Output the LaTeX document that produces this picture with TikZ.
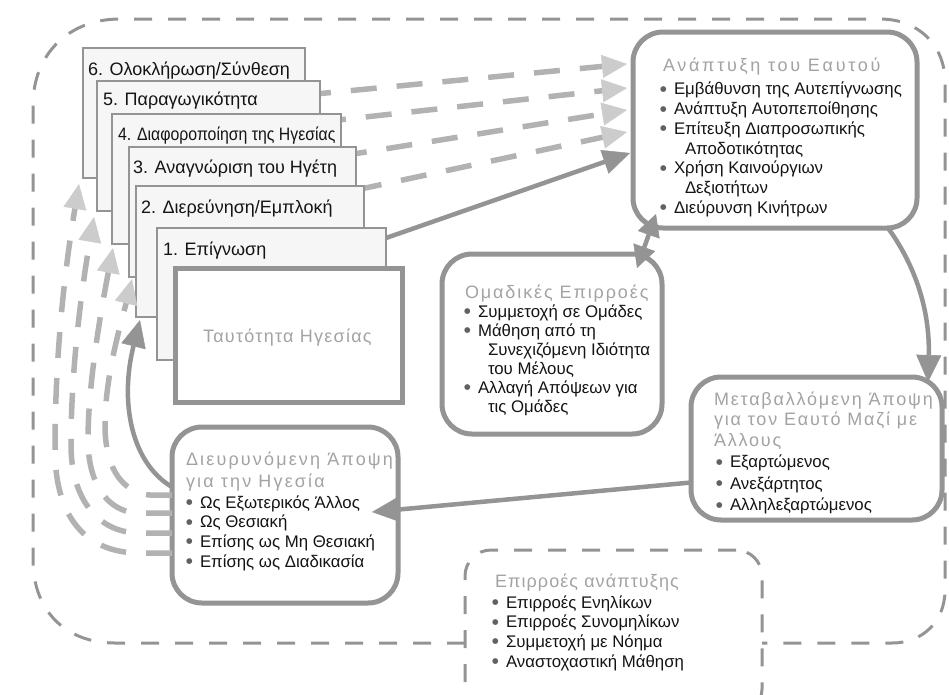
\documentclass[tikz,border=0pt]{standalone}
\usepackage{fontspec}
\setmainfont{Liberation Sans}
\newfontfamily\dotfont{DejaVu Sans}
\usepackage{graphicx}
\usetikzlibrary{arrows.meta,calc,backgrounds}

\definecolor{rim}{gray}{0.58}
\definecolor{rimlight}{gray}{0.70}
\definecolor{headtone}{gray}{0.80}
\definecolor{titletone}{gray}{0.64}
\definecolor{ink}{gray}{0.08}
\definecolor{dotc}{gray}{0.38}
\definecolor{sheet}{gray}{0.965}

% bullet and title helpers
\newcommand\dotb{\makebox[14pt][l]{\color{dotc}\raisebox{3.6pt}{\dotfont\fontsize{7.5}{7.5}\selectfont ●}}}
\newcommand\ttl[1][12]{\color{titletone}\fontsize{18}{18}\selectfont\addfontfeature{LetterSpace=#1}}

\begin{document}
\begin{tikzpicture}[x=1pt,y=-1pt,
  every node/.style={inner sep=0pt, outer sep=0pt, text=ink},
  frame/.style={draw=rim, line width=3pt, dash pattern=on 18pt off 16pt},
  roundbox/.style={draw=rim, line width=5pt, rounded corners=30pt, fill=white},
  sheetbox/.style={draw=rim, line width=2.2pt, fill=sheet, anchor=north west},
  sheettext/.style={anchor=base west, font=\fontsize{18}{20}\selectfont},
  flow/.style={draw=rim, line width=4.5pt,
    -{Triangle[length=27pt,width=25pt,line width=0.5pt]}},
  ghost/.style={draw=rimlight, line width=5.5pt, dash pattern=on 26pt off 20pt,
    -{Triangle[length=25pt,width=23pt,line width=0.5pt,color=headtone]}},
]
\useasboundingbox (0,0) rectangle (949,694);
\clip (0,0) rectangle (949,694);

% ---- stacked stage sheets ----
\node[sheetbox, minimum width=222pt, minimum height=130pt] (s6) at (83,48) {};
\node[sheetbox, minimum width=223pt, minimum height=130pt] (s5) at (97,81) {};
\node[sheetbox, minimum width=229pt, minimum height=130pt] (s4) at (112,114) {};
\node[sheetbox, minimum width=227pt, minimum height=130pt] (s3) at (129,147) {};
\node[sheetbox, minimum width=228pt, minimum height=131pt] (s2) at (136,186) {};
\node[sheetbox, minimum width=229pt, minimum height=132pt] (s1) at (157,228) {};
\node[draw=rim, line width=5pt, fill=white, anchor=north west,
      minimum width=227pt, minimum height=134pt] (ident) at (175,268) {};

\node[sheettext] (t6) at (88,75) {6. Ολοκλήρωση/Σύνθεση};
\node[sheettext] (t5) at (103,105) {5. Παραγωγικότητα};
\node[sheettext] (t4) at (118,140) {\scalebox{0.88}[1]{4. Διαφοροποίηση της Ηγεσίας}};
\node[sheettext] (t3) at (133,173) {3. Αναγνώριση του Ηγέτη};
\node[sheettext] (t2) at (141,213) {2. Διερεύνηση/Εμπλοκή};
\node[sheettext] (t1) at (163,255) {1. Επίγνωση};
\node[anchor=base west] (identtxt) at (203,342) {\ttl[7] Ταυτότητα Ηγεσίας};

% ---- rounded boxes ----
\node[roundbox, minimum width=284pt, minimum height=196pt] (dev) at (775,130) {};
\node[roundbox, minimum width=220pt, minimum height=180pt] (grp) at (552,344) {};
\node[roundbox, minimum width=251pt, minimum height=143pt] (chg) at (816.5,448.5) {};
\node[roundbox, minimum width=226pt, minimum height=176pt] (wide) at (285,515) {};
\node[draw=rim, line width=3pt, dash pattern=on 18pt off 16pt, rounded corners=26pt,
      minimum width=297pt, minimum height=165pt] (infl) at (613.5,632.5) {};

% ---- box texts: titles in pale grey, bullet items below ----
\node[anchor=base west] (devttl) at (663,71) {\ttl[15] Ανάπτυξη του Εαυτού};
\node[anchor=north west, align=left, font=\fontsize{16.8}{19.7}\selectfont] (devtxt) at (660,81.2) {%
  \strut\dotb Εμβάθυνση της Αυτεπίγνωσης\\
  \dotb Ανάπτυξη Αυτοπεποίθησης\\
  \dotb Επίτευξη Διαπροσωπικής\\
  \hspace*{25pt}Αποδοτικότητας\\
  \dotb Χρήση Καινούργιων\\
  \hspace*{25pt}Δεξιοτήτων\\
  \dotb Διεύρυνση Κινήτρων};

\node[anchor=base west] (grpttl) at (465,298) {\ttl[10.5] Ομαδικές Επιρροές};
\node[anchor=north west, align=left, font=\fontsize{16.8}{19}\selectfont] (grptxt) at (464,303.7) {%
  \strut\dotb Συμμετοχή σε Ομάδες\\
  \dotb Μάθηση από τη\\
  \hspace*{24pt}Συνεχιζόμενη Ιδιότητα\\
  \hspace*{24pt}του Μέλους\\
  \dotb Αλλαγή Απόψεων για\\
  \hspace*{24pt}τις Ομάδες};

\node[anchor=north west, align=left, font=\fontsize{18}{20.5}\selectfont] (chgttl) at (714,390.7) {%
  \strut{\ttl[10] Μεταβαλλόμενη Άποψη}\\
  {\ttl[10] για τον Εαυτό Μαζί με}\\
  {\ttl[10] Άλλους}};
\node[anchor=north west, align=left, font=\fontsize{16.8}{21.5}\selectfont] (chgtxt) at (716,452.9) {%
  \strut\dotb Εξαρτώμενος\\
  \dotb Ανεξάρτητος\\
  \dotb Αλληλεξαρτώμενος};

\node[anchor=north west, align=left, font=\fontsize{18}{22}\selectfont] (widettl) at (186,449.6) {%
  \strut{\ttl Διευρυνόμενη Άποψη}\\
  {\ttl για την Ηγεσία}};
\node[anchor=north west, align=left, font=\fontsize{16.8}{19.7}\selectfont] (widetxt) at (186,494.2) {%
  \strut\dotb Ως Εξωτερικός Άλλος\\
  \dotb Ως Θεσιακή\\
  \dotb Επίσης ως Μη Θεσιακή\\
  \dotb Επίσης ως Διαδικασία};

\node[anchor=base west] (inflttl) at (495,587) {\ttl[6] Επιρροές ανάπτυξης};
\node[anchor=north west, align=left, font=\fontsize{16.8}{19.7}\selectfont] (infltxt) at (492,594.2) {%
  \strut\dotb Επιρροές Ενηλίκων\\
  \dotb Επιρροές Συνομηλίκων\\
  \dotb Συμμετοχή με Νόημα\\
  \dotb Αναστοχαστική Μάθηση};

% ---- background: outer frame and dashed links from the sheets ----
\begin{scope}[on background layer]
  \draw[frame] ($(infl.west)+(0,10.5)$) -- (115,643)
     .. controls (65,643) and (33,610) .. (33,560) -- (33,105)
     .. controls (33,55) and (68,19) .. (120,19) -- (880,19)
     .. controls (918,19) and (945,45) .. (945,82) -- (945,590)
     .. controls (945,622) and (922,643) .. (892,643) -- ($(infl.east)+(0,10.5)$);
  \draw[ghost] ($(s6.north east)+(0,47)$) -- ($(dev.north west)+(-6,32)$);
  \draw[ghost] ($(s5.north east)+(0,41)$) -- ($(dev.north west)+(-6,56)$);
  \draw[ghost] ($(s4.north east)+(0,42)$) -- ($(dev.north west)+(-6,78)$);
  \draw[ghost] ($(s3.north east)+(0,43)$) -- ($(dev.north west)+(-6,100)$);
\end{scope}

% ---- dashed return arcs to the sheets ----
\draw[ghost] ($(wide.west)+(0,38)$) -- (140,553)
   .. controls (80,553) and (55,510) .. (55,450)
   .. controls (55,340) and (68,250) .. ($(s6.south west)+(-4,6)$);
\draw[ghost] ($(wide.west)+(0,18)$) -- (140,533)
   .. controls (95,533) and (71,495) .. (71,445)
   .. controls (71,360) and (84,275) .. ($(s5.south west)+(-3,6)$);
\draw[ghost] ($(wide.west)+(0,-2)$) -- (140,513)
   .. controls (105,513) and (88,480) .. (88,440)
   .. controls (88,380) and (103,300) .. ($(s4.south west)+(1,4)$);
\draw[ghost] ($(wide.west)+(0,-20)$) -- (150,495)
   .. controls (118,492) and (105,462) .. (105,425)
   .. controls (105,375) and (122,320) .. ($(s3.south west)+(3,2)$);

% ---- solid flows ----
\draw[flow] ($(s1.north east)+(0,10)$) -- ($(dev.west)+(-3,23)$);
\draw[draw=rim, line width=4.5pt,
      {Triangle[length=22pt,width=23pt,line width=0.5pt]}-{Triangle[length=22pt,width=23pt,line width=0.5pt]}]
      ($(grp.north east)+(-25,14)$) -- ($(dev.south west)+(23,-14)$);
\draw[flow] ($(dev.south east)+(-29,0)$) .. controls (915,265) and (930,310) .. ($(chg.north east)+(-14,5)$);
\draw[flow] ($(chg.west)+(0,34)$) -- ($(wide.east)+(-26,-3)$);
\draw[flow] ($(wide.west)+(0,-28)$) .. controls (130,462) and (120,400) .. ($(s2.south west)+(4,3)$);
\end{tikzpicture}
\end{document}
